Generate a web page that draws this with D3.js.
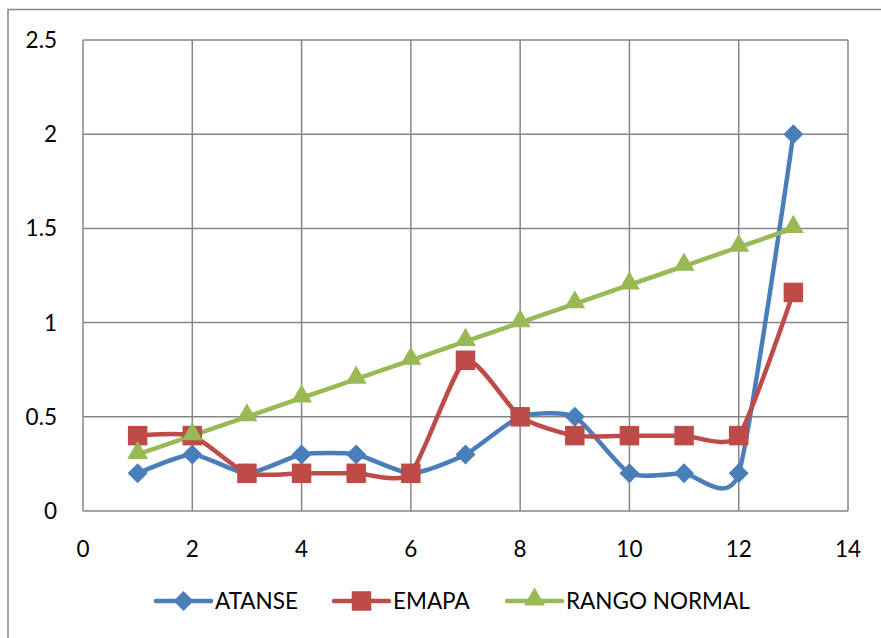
<!DOCTYPE html>
<html><head><meta charset="utf-8">
<script src="https://cdn.jsdelivr.net/npm/d3@7"></script>
<style>body{margin:0;background:#fff;} svg{display:block;}</style>
</head><body>
<svg id="c" width="881" height="638"></svg>
<script>
const xs = [1,2,3,4,5,6,7,8,9,10,11,12,13];
const atanse = [0.2,0.3,0.2,0.3,0.3,0.2,0.3,0.5,0.5,0.2,0.2,0.2,2.0];
const emapa  = [0.4,0.4,0.2,0.2,0.2,0.2,0.8,0.5,0.4,0.4,0.4,0.4,1.16];
const rango  = [0.3,0.4,0.5,0.6,0.7,0.8,0.9,1.0,1.1,1.2,1.3,1.4,1.5];
const xTicks = [0,2,4,6,8,10,12,14];
const yTicks = [0,0.5,1,1.5,2,2.5];
const seriesNames = ["ATANSE","EMAPA","RANGO NORMAL"];

const svg = d3.select("#c");
const font = "Lato, 'Open Sans', sans-serif";
const fs = 22.5;
const L=83, R=848, T=40, B=511;
const x = d3.scaleLinear().domain([0,14]).range([L,R]);
const y = d3.scaleLinear().domain([0,2.5]).range([B,T]);

svg.append("rect").attr("x",8).attr("y",9.5).attr("width",1000).attr("height",1000)
  .attr("fill","#fff").attr("stroke","#868686").attr("stroke-width",1.5);

const grid = svg.append("g");
grid.selectAll(".gx").data(xTicks).join("line")
  .attr("x1",d=>x(d)).attr("x2",d=>x(d)).attr("y1",T).attr("y2",B)
  .attr("stroke","#868686").attr("stroke-width",1.5);
grid.selectAll(".gy").data(yTicks).join("line")
  .attr("y1",d=>y(d)).attr("y2",d=>y(d)).attr("x1",L).attr("x2",R)
  .attr("stroke","#868686").attr("stroke-width",1.5);

svg.append("g").selectAll("text").data(yTicks).join("text")
  .attr("x",57).attr("y",d=>y(d)+8).attr("text-anchor","end")
  .attr("font-family",font).attr("font-size",fs).attr("fill","#000").text(d=>d);
svg.append("g").selectAll("text").data(xTicks).join("text")
  .attr("x",d=>x(d)).attr("y",557).attr("text-anchor","middle")
  .attr("font-family",font).attr("font-size",fs).attr("fill","#000").text(d=>d);

const colors = ["#4A7EBB","#BE4B48","#98B954"];
const data = [atanse, emapa, rango];
const curve = d3.curveCardinal.tension(0.4);
const line = d3.line().x((d,i)=>x(xs[i])).y(d=>y(d)).curve(curve);
const sym = [d3.symbolSquare, d3.symbolSquare, d3.symbolTriangle];
const symSize = [200, 380, 190];
const rot = [" rotate(45)", "", ""];
const dy = [0, 0, -1.5];

data.forEach((s,k)=>{
  svg.append("path").attr("d",line(s)).attr("fill","none")
    .attr("stroke",colors[k]).attr("stroke-width",4.5).attr("stroke-linejoin","round");
});
data.forEach((s,k)=>{
  svg.append("g").selectAll("path").data(s).join("path")
    .attr("d",d3.symbol().type(sym[k]).size(symSize[k]))
    .attr("transform",(d,i)=>`translate(${x(xs[i])},${y(d)+dy[k]})${rot[k]}`)
    .attr("fill",colors[k]);
});

// legend
const legX = [156, 334, 507];
const ly = 601;
seriesNames.forEach((n,k)=>{
  const g = svg.append("g");
  g.append("line").attr("x1",legX[k]).attr("x2",legX[k]+55).attr("y1",ly).attr("y2",ly)
    .attr("stroke",colors[k]).attr("stroke-width",4.5).attr("stroke-linecap","round");
  g.append("path").attr("d",d3.symbol().type(sym[k]).size(symSize[k]))
    .attr("transform",`translate(${legX[k]+27.5},${ly+dy[k]})${rot[k]}`).attr("fill",colors[k]);
  g.append("text").attr("x",legX[k]+59).attr("y",ly+8).attr("font-family",font)
    .attr("font-size",fs).attr("fill","#000").text(n);
});
</script>
</body></html>
